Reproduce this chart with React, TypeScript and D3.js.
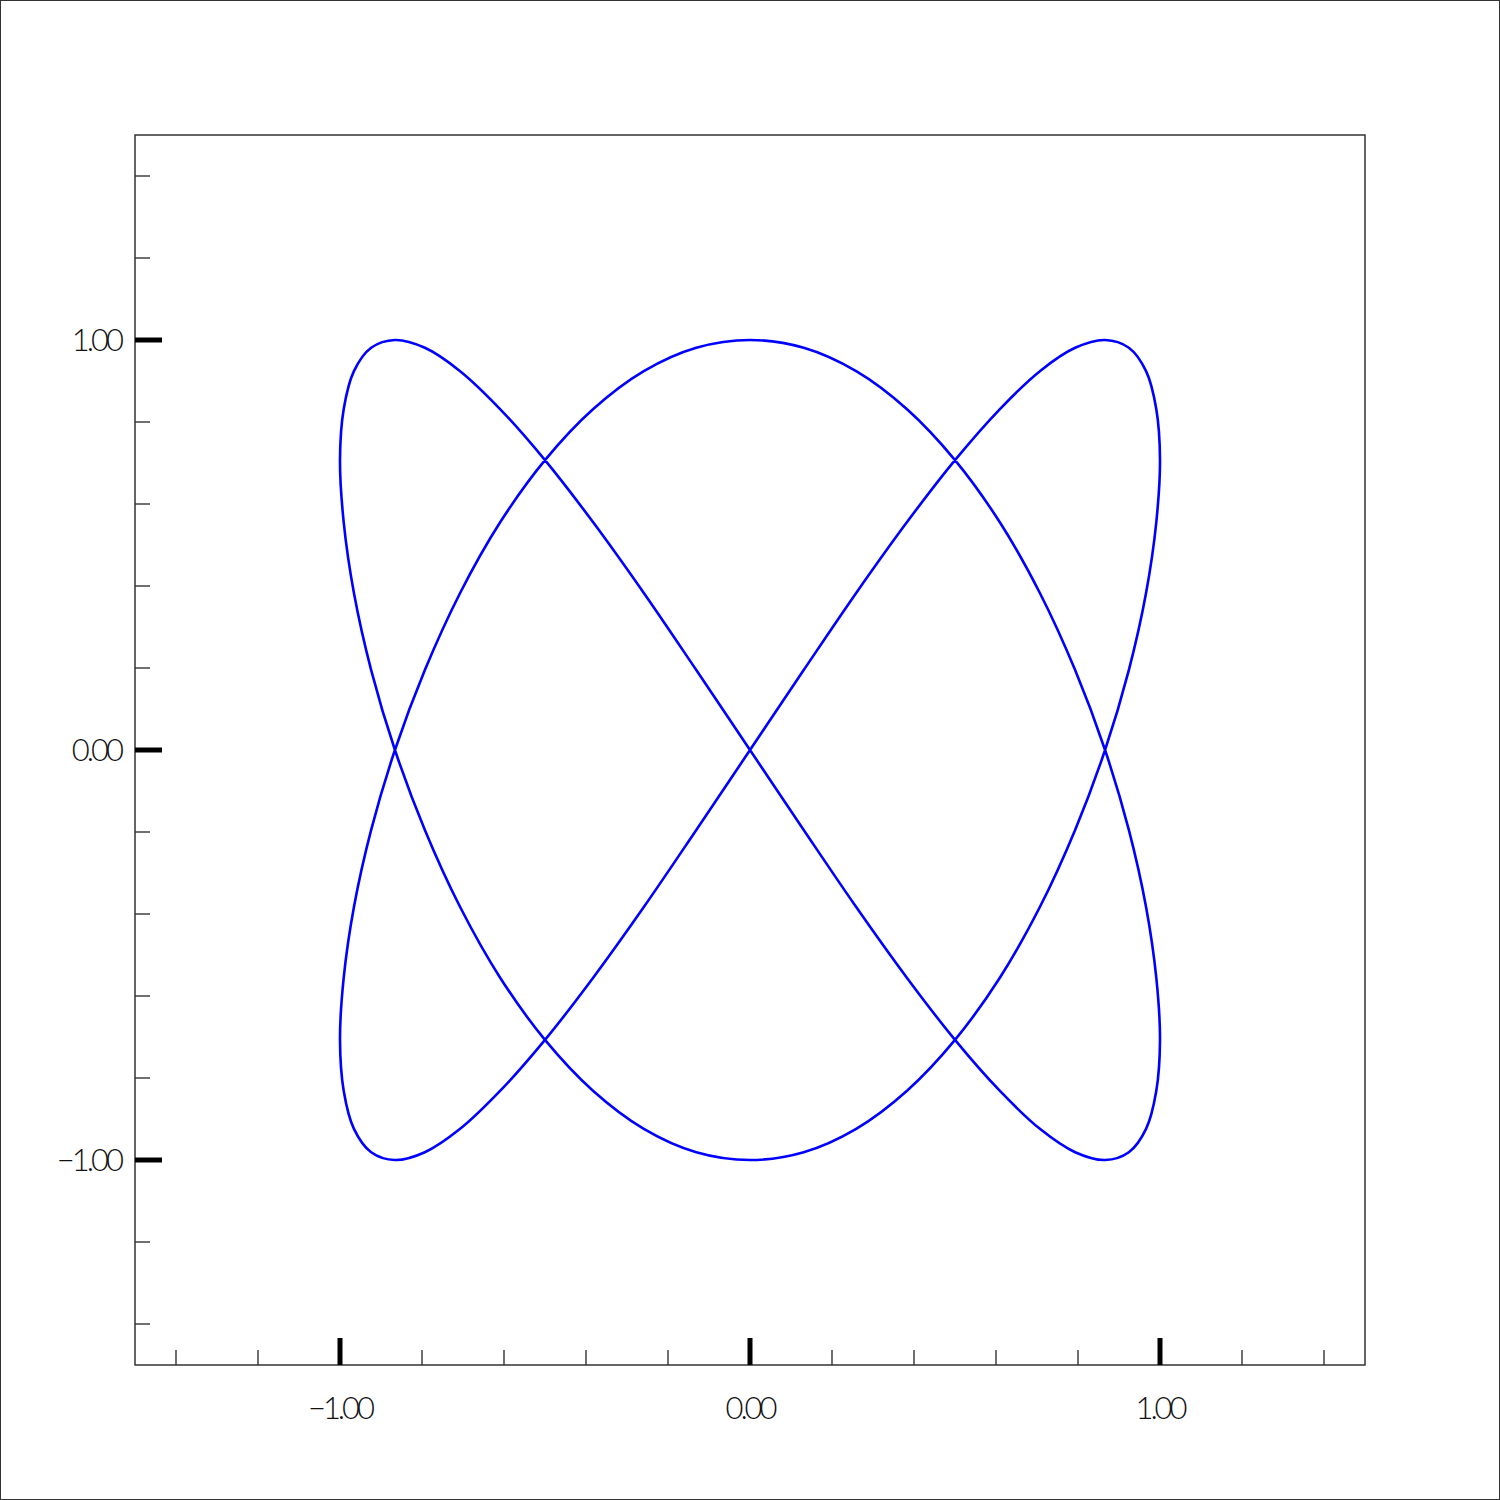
import * as d3 from "d3";

// points, in drawing order (x, y)
const curveX = [
  0, 0.131, 0.259, 0.383, 0.5, 0.609, 0.707, 0.793, 0.866, 0.924, 0.966, 0.991,
  1, 0.991, 0.966, 0.924, 0.866, 0.793, 0.707, 0.609, 0.5, 0.383, 0.259, 0.131,
  0, -0.131, -0.259, -0.383, -0.5, -0.609, -0.707, -0.793, -0.866, -0.924, -0.966, -0.991,
  -1, -0.991, -0.966, -0.924, -0.866, -0.793, -0.707, -0.609, -0.5, -0.383, -0.259, -0.131,
  0, 0.131, 0.259, 0.383, 0.5, 0.609, 0.707, 0.793, 0.866, 0.924, 0.966, 0.991,
  1, 0.991, 0.966, 0.924, 0.866, 0.793, 0.707, 0.609, 0.5, 0.383, 0.259, 0.131,
  0, -0.131, -0.259, -0.383, -0.5, -0.609, -0.707, -0.793, -0.866, -0.924, -0.966, -0.991,
  -1, -0.991, -0.966, -0.924, -0.866, -0.793, -0.707, -0.609, -0.5, -0.383, -0.259, -0.131,
];
const curveY = [
  0, 0.195, 0.383, 0.556, 0.707, 0.831, 0.924, 0.981, 1, 0.981, 0.924, 0.831,
  0.707, 0.556, 0.383, 0.195, 0, -0.195, -0.383, -0.556, -0.707, -0.831, -0.924, -0.981,
  -1, -0.981, -0.924, -0.831, -0.707, -0.556, -0.383, -0.195, 0, 0.195, 0.383, 0.556,
  0.707, 0.831, 0.924, 0.981, 1, 0.981, 0.924, 0.831, 0.707, 0.556, 0.383, 0.195,
  0, -0.195, -0.383, -0.556, -0.707, -0.831, -0.924, -0.981, -1, -0.981, -0.924, -0.831,
  -0.707, -0.556, -0.383, -0.195, 0, 0.195, 0.383, 0.556, 0.707, 0.831, 0.924, 0.981,
  1, 0.981, 0.924, 0.831, 0.707, 0.556, 0.383, 0.195, 0, -0.195, -0.383, -0.556,
  -0.707, -0.831, -0.924, -0.981, -1, -0.981, -0.924, -0.831, -0.707, -0.556, -0.383, -0.195,
];
const majorTicks = [-1, 0, 1];
const minorTicks = [-1.4, -1.2, -0.8, -0.6, -0.4, -0.2, 0.2, 0.4, 0.6, 0.8, 1.2, 1.4];
const domain = [-1.5, 1.5];

export default function App() {
  const width = 1500,
    height = 1500;
  const left = 135,
    right = 1365,
    top = 135,
    bottom = 1365;
  const x = d3.scaleLinear().domain(domain).range([left, right]);
  const y = d3.scaleLinear().domain(domain).range([bottom, top]);
  const pts: [number, number][] = curveX.map((v, i) => [v, curveY[i]]);
  const line = d3
    .line<[number, number]>()
    .x((d) => x(d[0]))
    .y((d) => y(d[1]))
    .curve(d3.curveCatmullRomClosed.alpha(0.5));
  const fmt = (v: number) => (v < 0 ? "\u2212" : "") + Math.abs(v).toFixed(2);
  const labelStyle = {
    fontFamily: "Lato",
    fontWeight: 300,
    fontSize: 31,
    letterSpacing: -3,
  };
  return (
    <svg
      width={width}
      height={height}
      style={{ position: "absolute", left: 0, top: 0, display: "block" }}
    >
      <rect x={0} y={0} width={width} height={height} fill="white" />
      <rect x={0.5} y={0.5} width={width - 1} height={height - 1} fill="none" stroke="#333" strokeWidth={1} />
      <rect x={left} y={top} width={right - left} height={bottom - top} fill="none" stroke="#333" strokeWidth={1.5} />
      {minorTicks.map((t) => (
        <g key={"m" + t}>
          <line x1={x(t)} x2={x(t)} y1={bottom} y2={bottom - 15} stroke="#333" strokeWidth={1.4} />
          <line x1={left} x2={left + 15} y1={y(t)} y2={y(t)} stroke="#333" strokeWidth={1.4} />
        </g>
      ))}
      {majorTicks.map((t) => (
        <g key={"M" + t}>
          <line x1={x(t)} x2={x(t)} y1={bottom} y2={bottom - 27} stroke="black" strokeWidth={5} />
          <line x1={left} x2={left + 27} y1={y(t)} y2={y(t)} stroke="black" strokeWidth={5} />
          <text x={x(t)} y={1419} textAnchor="middle" style={labelStyle} fill="#111">
            {fmt(t)}
          </text>
          <text x={121} y={y(t) + 11} textAnchor="end" style={labelStyle} fill="#111">
            {fmt(t)}
          </text>
        </g>
      ))}
      <path d={line(pts) ?? ""} fill="none" stroke="#0000ff" strokeWidth={2.6} />
    </svg>
  );
}
